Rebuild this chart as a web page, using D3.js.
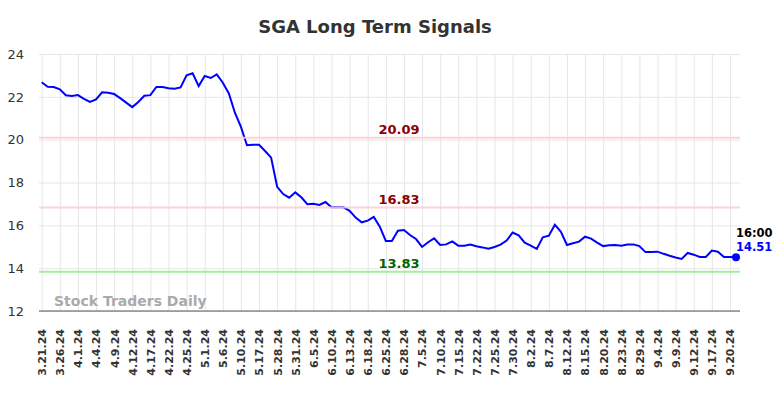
<!DOCTYPE html>
<html>
<head>
<meta charset="utf-8">
<script src="https://cdn.jsdelivr.net/npm/d3@7"></script>
<style>
body { margin: 0; background: #fff; }
text { font-family: "DejaVu Sans", sans-serif; }
</style>
</head>
<body>
<div id="chart"></div>
<script>
// tick labels, one every 3 points
const tickLabels = ["3.21.24", "3.26.24", "4.1.24", "4.4.24", "4.9.24", "4.12.24", "4.17.24", "4.22.24",
    "4.25.24", "5.1.24", "5.6.24", "5.10.24", "5.17.24", "5.28.24", "5.31.24", "6.5.24", "6.10.24",
    "6.13.24", "6.18.24", "6.25.24", "6.28.24", "7.5.24", "7.10.24", "7.15.24", "7.22.24", "7.25.24",
    "7.30.24", "8.2.24", "8.7.24", "8.12.24", "8.15.24", "8.20.24", "8.23.24", "8.29.24", "9.4.24",
    "9.9.24", "9.12.24", "9.17.24", "9.20.24"];

const prices = [22.68, 22.47, 22.46, 22.35, 22.07, 22.04, 22.08, 21.91, 21.76, 21.88,
    22.21, 22.19, 22.13, 21.94, 21.73, 21.52, 21.76, 22.05, 22.08, 22.46,
    22.46, 22.40, 22.38, 22.44, 23.00, 23.10, 22.50, 22.97, 22.88, 23.05,
    22.66, 22.16, 21.26, 20.60, 19.74, 19.76, 19.76, 19.47, 19.16, 17.80,
    17.46, 17.29, 17.54, 17.31, 16.99, 17.01, 16.95, 17.09, 16.84, 16.84,
    16.84, 16.68, 16.36, 16.14, 16.22, 16.39, 15.94, 15.27, 15.27, 15.75,
    15.78, 15.55, 15.36, 14.99, 15.21, 15.39, 15.08, 15.11, 15.25, 15.05,
    15.05, 15.10, 15.02, 14.97, 14.91, 14.99, 15.10, 15.29, 15.66, 15.53,
    15.19, 15.05, 14.90, 15.44, 15.52, 16.03, 15.70, 15.08, 15.16, 15.24,
    15.47, 15.38, 15.19, 15.03, 15.07, 15.08, 15.05, 15.10, 15.11, 15.03,
    14.75, 14.75, 14.77, 14.67, 14.58, 14.50, 14.43, 14.71, 14.63, 14.52,
    14.52, 14.82, 14.77, 14.52, 14.52, 14.51];

const levels = [20.09, 16.83, 13.83];
const levelColors = ["#8b0000", "#8b0000", "#006400"];
const levelLines = ["#ffcccc", "#ffcccc", "#90ee90"];
const yTicks = [12, 14, 16, 18, 20, 22, 24];
const lastTime = "16:00";

let width = 784;
let height = 398;
let margin = {left: 39, right: 740, top: 54, bottom: 311};

let svg = d3.select("#chart")
    .append("svg")
    .attr("width", width)
    .attr("height", height);

let x = d3.scaleLinear()
    .domain([0, prices.length - 1])
    .range([41.7, 736]);

let y = d3.scaleLinear()
    .domain([12, 24])
    .range([margin.bottom, margin.top]);

// title
svg.append("text")
    .attr("x", 375)
    .attr("y", 33)
    .attr("text-anchor", "middle")
    .style("font-size", "18px")
    .style("font-weight", "bold")
    .style("fill", "#333")
    .text("SGA Long Term Signals");

// y axis + horizontal grid
let yAxis = svg.append("g")
    .attr("transform", "translate(" + margin.left + ",0)")
    .call(d3.axisLeft(y).tickValues(yTicks).tickSize(-(margin.right - margin.left)).tickPadding(15));
yAxis.select(".domain").remove();
yAxis.selectAll("line").attr("stroke", "#e6e6e6");
yAxis.selectAll("text")
    .style("font-size", "13px")
    .style("fill", "#333");

// x axis + vertical grid
let tickIdx = tickLabels.map((d, i) => i * 3);
let xAxis = svg.append("g")
    .attr("transform", "translate(0," + margin.bottom + ")")
    .call(d3.axisBottom(x)
        .tickValues(tickIdx)
        .tickFormat(d => tickLabels[d / 3])
        .tickSize(-(margin.bottom - margin.top)));
xAxis.select(".domain").remove();
xAxis.selectAll("line").attr("stroke", "#e6e6e6");
xAxis.selectAll("text")
    .attr("transform", "rotate(-90)")
    .attr("text-anchor", "end")
    .attr("x", -18)
    .attr("y", 0)
    .attr("dy", "0.35em")
    .style("font-size", "11px")
    .style("font-weight", "bold")
    .style("fill", "#333");

// axis line
svg.append("line")
    .attr("x1", margin.left).attr("x2", margin.right)
    .attr("y1", margin.bottom).attr("y2", margin.bottom)
    .attr("stroke", "#555");

// watermark
svg.append("text")
    .attr("x", 54)
    .attr("y", 306)
    .style("font-size", "14px")
    .style("font-weight", "bold")
    .style("fill", "#aaa")
    .text("Stock Traders Daily");

// price line
let line = d3.line()
    .x((d, i) => x(i))
    .y(d => y(d));

svg.append("path")
    .datum(prices)
    .attr("d", line)
    .attr("fill", "none")
    .attr("stroke", "#0000ff")
    .attr("stroke-width", 2);

// signal levels
levels.forEach((v, i) => {
    svg.append("line")
        .attr("x1", margin.left).attr("x2", margin.right)
        .attr("y1", y(v)).attr("y2", y(v))
        .attr("stroke", levelLines[i])
        .attr("stroke-width", 2)
        .attr("opacity", 0.85);
    svg.append("text")
        .attr("x", 399)
        .attr("y", y(v) - 4)
        .attr("text-anchor", "middle")
        .style("font-size", "13px")
        .style("font-weight", "bold")
        .style("fill", levelColors[i])
        .text(v.toFixed(2));
});

// last point
let last = prices.length - 1;
svg.append("circle")
    .attr("cx", x(last))
    .attr("cy", y(prices[last]))
    .attr("r", 4)
    .attr("fill", "#0000ff");

svg.append("text")
    .attr("x", x(last))
    .attr("y", y(prices[last]) - 20)
    .style("font-size", "11.5px")
    .style("font-weight", "bold")
    .style("fill", "#000")
    .text(lastTime);

svg.append("text")
    .attr("x", x(last))
    .attr("y", y(prices[last]) - 6)
    .style("font-size", "11.5px")
    .style("font-weight", "bold")
    .style("fill", "#0000ff")
    .text(prices[last].toFixed(2));
</script>
</body>
</html>
